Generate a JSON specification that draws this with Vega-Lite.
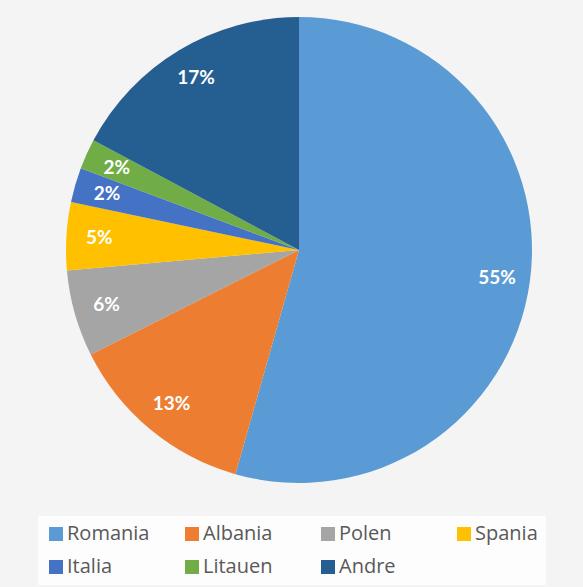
{
  "$schema": "https://vega.github.io/schema/vega-lite/v6.json",
  "width": 568,
  "height": 500,
  "autosize": {"type": "none"},
  "padding": {"left": 15, "top": 0, "right": 0, "bottom": 87},
  "background": "#f4f4f4",
  "config": {"view": {"stroke": null}},
  "data": {
    "values": [
      {"land": "Romania", "andel": 54.4, "label": "55%", "rekke": 1},
      {"land": "Albania", "andel": 13.2, "label": "13%", "rekke": 2},
      {"land": "Polen", "andel": 6.0, "label": "6%", "rekke": 3},
      {"land": "Spania", "andel": 4.7, "label": "5%", "rekke": 4},
      {"land": "Italia", "andel": 2.4, "label": "2%", "rekke": 5},
      {"land": "Litauen", "andel": 2.1, "label": "2%", "rekke": 6},
      {"land": "Andre", "andel": 17.2, "label": "17%", "rekke": 7}
    ]
  },
  "encoding": {
    "theta": {"field": "andel", "type": "quantitative", "stack": true},
    "order": {"field": "rekke", "type": "quantitative"},
    "color": {
      "field": "land",
      "type": "nominal",
      "sort": ["Romania", "Albania", "Polen", "Spania", "Italia", "Litauen", "Andre"],
      "scale": {
        "domain": ["Romania", "Albania", "Polen", "Spania", "Italia", "Litauen", "Andre"],
        "range": ["#5B9BD5", "#ED7D31", "#A5A5A5", "#FFC000", "#4472C4", "#70AD47", "#255E91"]
      },
      "legend": {
        "title": null,
        "orient": "none",
        "legendX": 23,
        "legendY": 516,
        "direction": "horizontal",
        "columns": 4,
        "gridAlign": "all",
        "columnPadding": 32,
        "rowPadding": 13,
        "symbolType": "square",
        "symbolSize": 196,
        "symbolStrokeWidth": 0,
        "labelOffset": 1,
        "labelFont": "Open Sans",
        "labelFontSize": 20,
        "labelColor": "#595959",
        "padding": 8,
        "fillColor": "#fdfdfd"
      }
    }
  },
  "layer": [
    {"mark": {"type": "arc", "outerRadius": 233}},
    {
      "mark": {"type": "text", "radius": 200, "font": "Lato", "fontSize": 19, "fontWeight": "bold", "fill": "#ffffff", "align": "center", "baseline": "middle"},
      "encoding": {"text": {"field": "label"}, "color": {"value": "#ffffff"}}
    }
  ]
}
